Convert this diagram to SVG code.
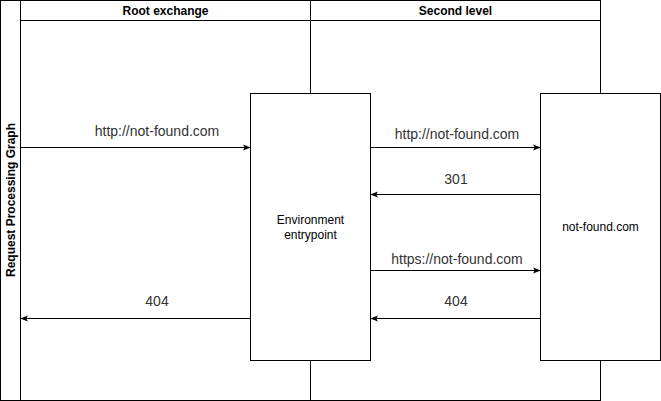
<svg xmlns="http://www.w3.org/2000/svg" width="661" height="401" viewBox="0 0 661 401">
<style>
.ln{fill:none;stroke:#000;stroke-width:1}
.box{fill:#fff;stroke:#000;stroke-width:1}
.hd{font-family:"Liberation Sans",Arial,sans-serif;font-size:12px;font-weight:bold;fill:#000;text-anchor:middle}
.lb{font-family:"Liberation Sans",Arial,sans-serif;font-size:14px;fill:#333;text-anchor:middle}
.nd{font-family:"Liberation Sans",Arial,sans-serif;font-size:12px;fill:#000;text-anchor:middle}
</style>
<defs>
<marker id="ah" viewBox="0 0 10 10" refX="9" refY="5" markerWidth="8" markerHeight="8" markerUnits="userSpaceOnUse" orient="auto">
<path d="M0,1 L10,5 L0,9 L2.5,5 Z" fill="#000"/>
</marker>
</defs>
<g id="pool">
<rect class="box" x="0.5" y="0.5" width="600" height="400"/>
<line class="ln" x1="20.5" y1="0.5" x2="20.5" y2="400.5"/>
<text class="hd" transform="translate(14.5,200) rotate(-90)">Request Processing Graph</text>
</g>
<g id="lane-root">
<rect class="box" x="20.5" y="0.5" width="290" height="400"/>
<line class="ln" x1="20.5" y1="20.5" x2="310.5" y2="20.5"/>
<text class="hd" x="165.5" y="15">Root exchange</text>
</g>
<g id="lane-second">
<rect class="box" x="310.5" y="0.5" width="290" height="400"/>
<line class="ln" x1="310.5" y1="20.5" x2="600.5" y2="20.5"/>
<text class="hd" x="455.5" y="15">Second level</text>
</g>
<g id="env">
<rect class="box" x="250.5" y="93.5" width="120" height="267"/>
<text class="nd" x="310.5" y="224">Environment</text>
<text class="nd" x="310.5" y="239">entrypoint</text>
</g>
<g id="notfound">
<rect class="box" x="540.5" y="93.5" width="120" height="267"/>
<text class="nd" x="600.5" y="231">not-found.com</text>
</g>
<g id="connectors">
<line class="ln" x1="20.5" y1="147.5" x2="250" y2="147.5" marker-end="url(#ah)"/>
<text class="lb" x="157" y="136">http://not-found.com</text>
<line class="ln" x1="370.5" y1="147.5" x2="540" y2="147.5" marker-end="url(#ah)"/>
<text class="lb" x="457" y="139">http://not-found.com</text>
<line class="ln" x1="540.5" y1="194.5" x2="371" y2="194.5" marker-end="url(#ah)"/>
<text class="lb" x="456" y="184">301</text>
<line class="ln" x1="370.5" y1="270.5" x2="540" y2="270.5" marker-end="url(#ah)"/>
<text class="lb" x="457" y="264">https://not-found.com</text>
<line class="ln" x1="250.5" y1="318.5" x2="21" y2="318.5" marker-end="url(#ah)"/>
<text class="lb" x="157" y="306">404</text>
<line class="ln" x1="540.5" y1="318.5" x2="371" y2="318.5" marker-end="url(#ah)"/>
<text class="lb" x="456" y="306">404</text>
</g>
</svg>
